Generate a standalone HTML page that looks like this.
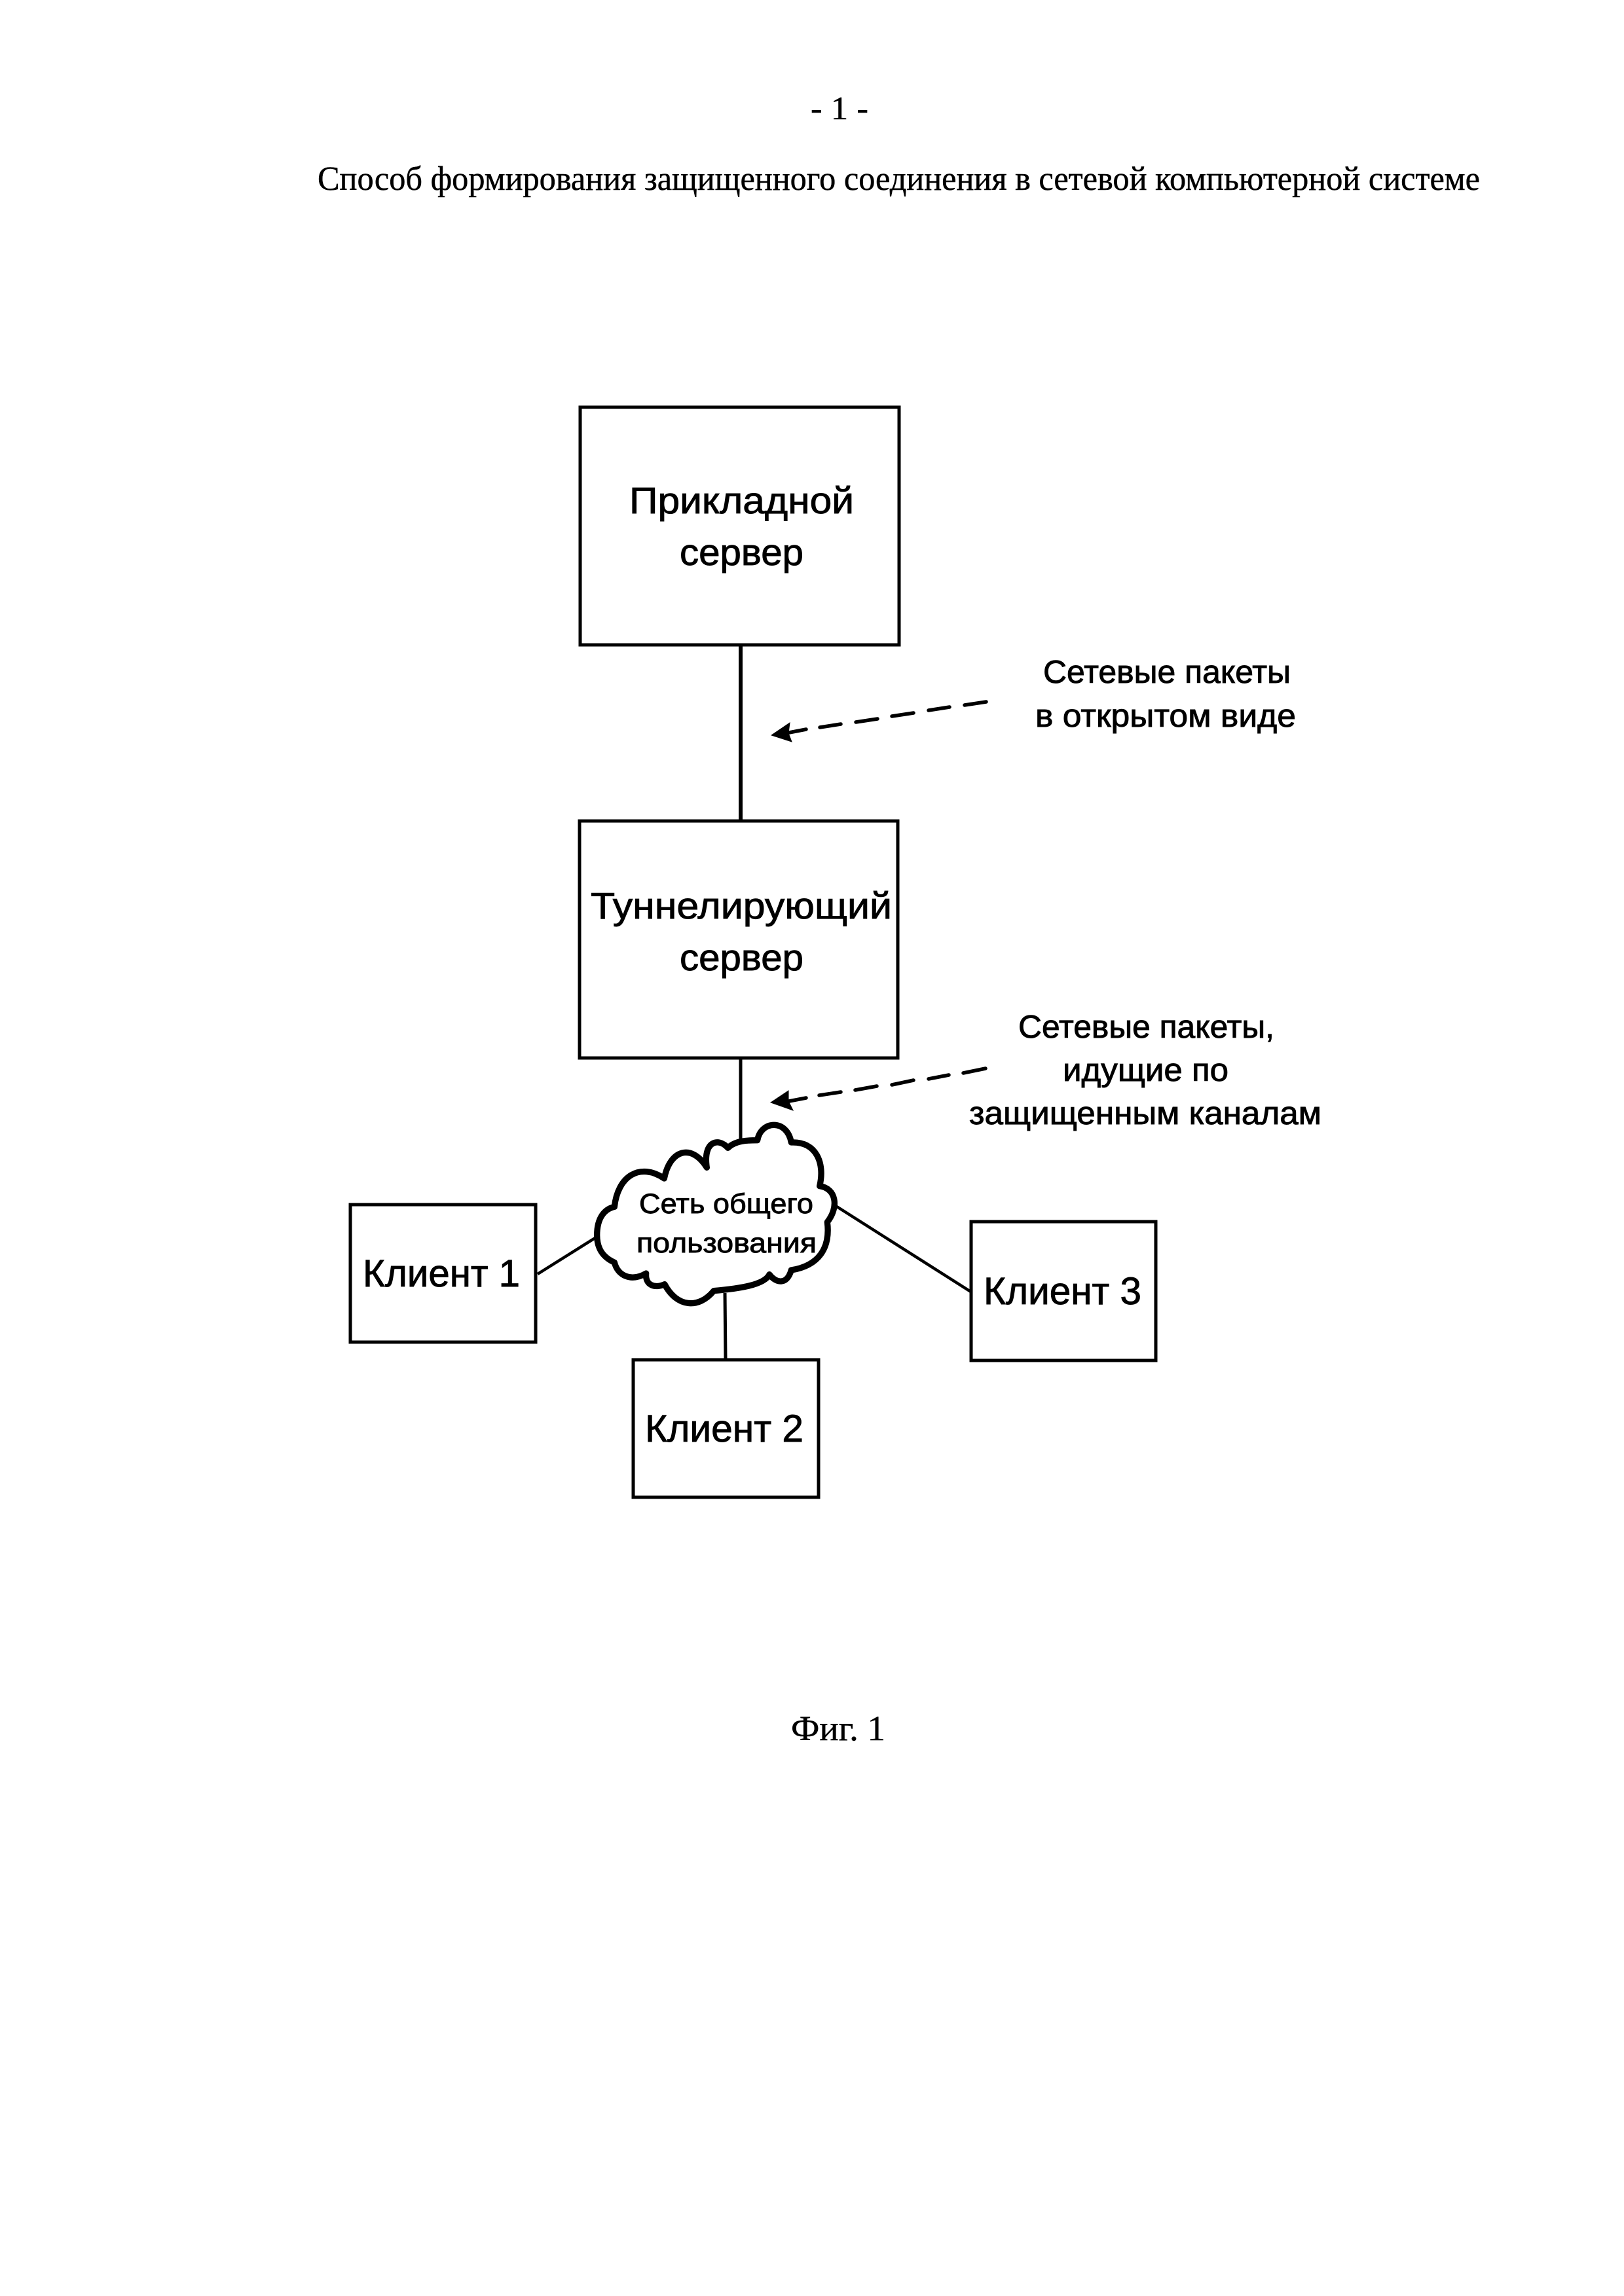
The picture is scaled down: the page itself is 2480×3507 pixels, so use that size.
<!DOCTYPE html>
<html lang="ru">
<head>
<meta charset="utf-8">
<title>Фиг. 1</title>
<style>
html,body{margin:0;padding:0;background:#fff;width:2480px;height:3507px;overflow:hidden}
svg{display:block}
.s{font-family:"Liberation Sans","DejaVu Sans",sans-serif;fill:#000;stroke:#000;stroke-width:.9}
.t{font-family:"Liberation Serif","DejaVu Serif",serif;fill:#000;stroke:#000;stroke-width:.5}
.b{fill:#fff;stroke:#000;stroke-linejoin:miter}
.l{stroke:#000;fill:none}
.d{stroke:#000;stroke-width:5.5;stroke-linecap:round;fill:none}
</style>
</head>
<body>
<svg xmlns="http://www.w3.org/2000/svg" width="2480" height="3507" viewBox="0 0 2480 3507">
<rect width="2480" height="3507" fill="#fff"/>

<text class="t" x="1238" y="182" font-size="50" textLength="88" lengthAdjust="spacingAndGlyphs">- 1 -</text>
<text class="t" x="485" y="290" font-size="52" textLength="1775" lengthAdjust="spacingAndGlyphs">Способ формирования защищенного соединения в сетевой компьютерной системе</text>

<!-- connectors -->
<line class="l" x1="1131" y1="985" x2="1131" y2="1256" stroke-width="6"/>
<line class="l" x1="1131" y1="1616" x2="1131" y2="1745" stroke-width="5"/>
<line class="l" x1="821" y1="1946" x2="915" y2="1887" stroke-width="4.5"/>
<line class="l" x1="1270" y1="1838" x2="1484" y2="1974" stroke-width="4.5"/>
<line class="l" x1="1107" y1="1975" x2="1108" y2="2077" stroke-width="5"/>

<!-- boxes -->
<rect class="b" x="886" y="622" width="487" height="363" stroke-width="5"/>
<rect class="b" x="885" y="1254" width="486" height="362" stroke-width="5"/>
<rect class="b" x="535" y="1840" width="283" height="210" stroke-width="5"/>
<rect class="b" x="967" y="2077" width="283" height="210" stroke-width="5"/>
<rect class="b" x="1483" y="1866" width="282" height="212" stroke-width="5"/>

<!-- cloud -->
<g transform="translate(880 1700) scale(.33333)">
<path fill="#fff" stroke="#000" stroke-width="28" stroke-linejoin="round" stroke-linecap="round"
 d="M95,560 C95,480 130,440 175,430 C190,290 290,225 403,300 C430,165 530,140 598,250 C580,130 650,110 695,160 C730,125 790,125 830,125 C845,35 965,25 985,135 C1100,130 1140,230 1115,335 C1190,345 1205,430 1150,500 C1165,620 1110,700 985,720 C965,790 915,780 885,740 C860,790 740,805 630,815 C560,900 460,890 405,785 C360,805 315,790 320,735 C250,775 190,745 175,685 C120,660 95,620 95,560 Z"/>
</g>

<!-- dashed arrow 1 -->
<polygon points="1178,1123 1206,1104 1204,1120 1209,1133" fill="#000" stroke="#000" stroke-width="1"/>
<path class="d" d="M1205,1119L1231,1114M1252,1111L1284,1106M1307,1103L1340,1098M1362,1094L1395,1089M1418,1085L1450,1080M1473,1077L1506,1072"/>

<!-- dashed arrow 2 -->
<polygon points="1177,1684 1204,1666 1204,1682 1211,1696" fill="#000" stroke="#000" stroke-width="1"/>
<path class="d" d="M1205,1682L1231,1677M1251,1673L1284,1668M1306,1665L1339,1659M1362,1657L1395,1650M1418,1648L1449,1642M1471,1639L1505,1632"/>

<!-- box labels -->
<text class="s" x="961" y="784" font-size="57" textLength="343" lengthAdjust="spacingAndGlyphs">Прикладной</text>
<text class="s" x="1038" y="863" font-size="57" textLength="189" lengthAdjust="spacingAndGlyphs">сервер</text>
<text class="s" x="902" y="1403" font-size="57" textLength="460" lengthAdjust="spacingAndGlyphs">Туннелирующий</text>
<text class="s" x="1038" y="1482" font-size="57" textLength="189" lengthAdjust="spacingAndGlyphs">сервер</text>

<text class="s" x="1593" y="1043" font-size="49" textLength="378" lengthAdjust="spacingAndGlyphs">Сетевые пакеты</text>
<text class="s" x="1581" y="1110" font-size="49" textLength="398" lengthAdjust="spacingAndGlyphs">в открытом виде</text>

<text class="s" x="1555" y="1585" font-size="49" textLength="391" lengthAdjust="spacingAndGlyphs">Сетевые пакеты,</text>
<text class="s" x="1623" y="1651" font-size="49" textLength="253" lengthAdjust="spacingAndGlyphs">идущие по</text>
<text class="s" x="1480" y="1717" font-size="49" textLength="538" lengthAdjust="spacingAndGlyphs">защищенным каналам</text>

<text class="s" x="976" y="1853" font-size="43" textLength="266" lengthAdjust="spacingAndGlyphs">Сеть общего</text>
<text class="s" x="972" y="1913" font-size="43" textLength="275" lengthAdjust="spacingAndGlyphs">пользования</text>

<text class="s" x="554" y="1965" font-size="58" textLength="240" lengthAdjust="spacingAndGlyphs">Клиент 1</text>
<text class="s" x="985" y="2202" font-size="58" textLength="242" lengthAdjust="spacingAndGlyphs">Клиент 2</text>
<text class="s" x="1502" y="1992" font-size="58" textLength="241" lengthAdjust="spacingAndGlyphs">Клиент 3</text>

<text class="t" x="1208" y="2658" font-size="54" textLength="144" lengthAdjust="spacingAndGlyphs">Фиг. 1</text>
</svg>
</body>
</html>
